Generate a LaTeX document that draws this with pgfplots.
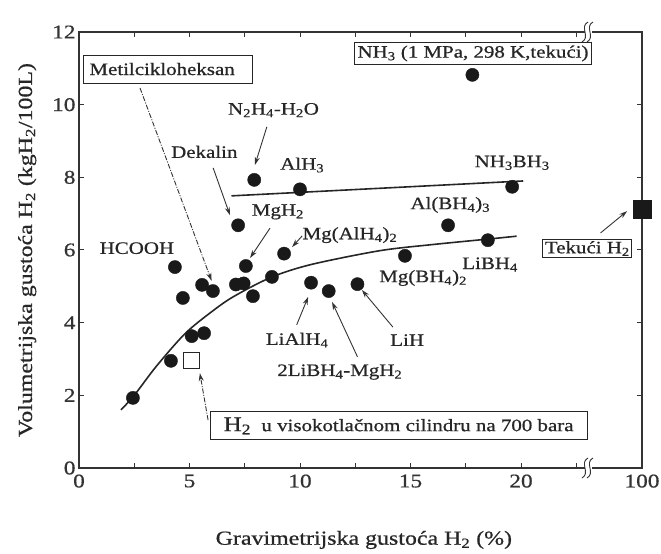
\documentclass[border=0pt]{standalone}
\usepackage{fontspec}
\setmainfont{Liberation Serif}[FakeStretch=1.2, RawFeature={embolden=0.7}]
\usepackage{pgfplots}
\pgfplotsset{compat=1.18}
\usetikzlibrary{arrows.meta}

\tikzset{
  lbl/.style={font=\fontsize{17.5}{20}\selectfont, text=black!85, inner sep=2bp},
  box/.style={lbl, draw=black!85, line width=1bp, fill=white, inner sep=3bp},
  arr/.style={-{Stealth[length=8bp,width=5bp]}, line width=0.9bp, black!80},
  dasharr/.style={arr, dash pattern=on 5bp off 1.5bp on 1bp off 1.5bp},
}

\begin{document}
\begin{tikzpicture}
\path[use as bounding box] (-79bp,-86bp) rectangle (582bp,468bp);
\begin{axis}[
  scale only axis, width=563bp, height=436bp,
  xmin=0, xmax=25.475, ymin=0, ymax=12,
  clip=false,
  axis line style={line width=1.3bp, black!80},
  tick style={line width=1bp, black!80},
  tick align=inside, major tick length=5bp, minor tick length=5bp,
  xtick={0,5,10,15,20,25.475}, xticklabels={0,5,10,15,20,100},
  minor xtick={2.5,7.5,12.5,17.5,22.5},
  ytick={0,2,4,6,8,10,12}, yticklabels={0,2,4,6,8,10,12},
  ticklabel style={font=\fontsize{19.5}{22}\selectfont, text=black!80},
  xticklabel style={yshift=-3bp},
  xlabel={Gravimetrijska gustoća H\textsubscript{2} (\%)},
  ylabel={Volumetrijska gustoća H\textsubscript{2} (kgH\textsubscript{2}/100L)},
  label style={font=\fontsize{20}{24}\selectfont, text=black!85},
  xlabel style={at={(axis description cs:0.506,-0.165)}, anchor=center},
  ylabel style={at={(axis description cs:-0.092,0.5)}, anchor=center},
]
% trend curves
\addplot[line width=1.6bp, black!85, no marks] coordinates {(6.9,7.49) (20.1,7.9)};
\addplot[line width=1.6bp, black!85, smooth, no marks] coordinates {
  (1.9,1.6) (2.5,2.0) (3.5,2.8) (4.8,3.7) (6,4.3) (7,4.72) (8.7,5.25)
  (10.5,5.6) (13.6,5.98) (16,6.15) (18.5,6.3) (19.8,6.38)};

% materials
\addplot[only marks, mark=*, mark size=6.6bp, black!90] coordinates {
  (2.44,1.93) (4.16,2.95) (5.1,3.63) (5.66,3.71) (4.34,5.53) (4.7,4.68)
  (5.57,5.04) (6.06,4.87) (7.1,5.05) (7.45,5.08) (7.55,5.56) (7.87,4.73)
  (8.73,5.26) (7.2,6.68) (7.93,7.93) (10.0,7.67) (9.28,5.9) (10.5,5.1)
  (11.3,4.87) (12.6,5.06) (14.75,5.84) (16.7,6.68) (18.5,6.27) (19.6,7.74)
  (17.8,10.82)};
% compressed H2, 700 bar
\addplot[only marks, mark=square, mark size=8bp, line width=1bp, black!85, fill=white] coordinates {(5.07,2.97)};
% liquid H2 (at 100 %)
\addplot[only marks, mark=square*, mark size=9bp, black!90] coordinates {(25.475,7.13)};

% axis breaks
\fill[white] ([shift={(-3bp,-2bp)}]axis cs:23.03,0) rectangle ([shift={(4bp,2bp)}]axis cs:23.03,0);
\draw[line width=0.9bp, black!80] ([shift={(-6bp,-10bp)}]axis cs:23.03,0)
  .. controls +(9bp,5bp) and +(-9bp,-5bp) .. ([shift={(0bp,10bp)}]axis cs:23.03,0);
\draw[line width=0.9bp, black!80] ([shift={(-1bp,-10bp)}]axis cs:23.03,0)
  .. controls +(9bp,5bp) and +(-9bp,-5bp) .. ([shift={(5bp,10bp)}]axis cs:23.03,0);
\fill[white] ([shift={(-3bp,-2bp)}]axis cs:23.03,12) rectangle ([shift={(4bp,2bp)}]axis cs:23.03,12);
\draw[line width=0.9bp, black!80] ([shift={(-6bp,-10bp)}]axis cs:23.03,12)
  .. controls +(9bp,5bp) and +(-9bp,-5bp) .. ([shift={(0bp,10bp)}]axis cs:23.03,12);
\draw[line width=0.9bp, black!80] ([shift={(-1bp,-10bp)}]axis cs:23.03,12)
  .. controls +(9bp,5bp) and +(-9bp,-5bp) .. ([shift={(5bp,10bp)}]axis cs:23.03,12);

% labels and arrows
\node[box, anchor=west, text width=157bp, align=left, inner xsep=6bp, minimum height=28bp]
  at (axis cs:0.18,10.98) {Metilcikloheksan};
\draw[dasharr] (axis cs:2.76,10.46) -- (axis cs:6.0,5.15);
\node[lbl] at (axis cs:8.8,9.85) {N\textsubscript{2}H\textsubscript{4}-H\textsubscript{2}O};
\draw[arr] (axis cs:8.5,9.39) -- (axis cs:7.96,8.34);
\node[lbl] at (axis cs:5.67,8.7) {Dekalin};
\draw[arr] (axis cs:6.07,8.26) -- (axis cs:6.83,6.96);
\node[lbl] at (axis cs:10.1,8.34) {AlH\textsubscript{3}};
\node[lbl] at (axis cs:9.0,7.05) {MgH\textsubscript{2}};
\draw[arr] (axis cs:8.64,6.6) -- (axis cs:7.74,5.78);
\node[lbl] at (axis cs:12.26,6.41) {Mg(AlH\textsubscript{4})\textsubscript{2}};
\draw[arr] (axis cs:10.1,6.39) -- (axis cs:9.64,6.08);
\node[lbl] at (axis cs:2.62,6.05) {HCOOH};
\node[box] at (axis cs:17.83,11.41) {NH\textsubscript{3} (1 MPa, 298 K,tekući)};
\node[lbl] at (axis cs:19.6,8.4) {NH\textsubscript{3}BH\textsubscript{3}};
\node[lbl] at (axis cs:16.8,7.24) {Al(BH\textsubscript{4})\textsubscript{3}};
\node[lbl] at (axis cs:18.6,5.6) {LiBH\textsubscript{4}};
\node[lbl] at (axis cs:15.57,5.23) {Mg(BH\textsubscript{4})\textsubscript{2}};
\node[lbl] at (axis cs:9.87,3.52) {LiAlH\textsubscript{4}};
\draw[arr] (axis cs:9.85,3.94) -- (axis cs:10.37,4.71);
\node[lbl] at (axis cs:11.8,2.64) {2LiBH\textsubscript{4}-MgH\textsubscript{2}};
\draw[arr] (axis cs:12.6,3.06) -- (axis cs:11.45,4.57);
\node[lbl] at (axis cs:14.85,3.52) {LiH};
\draw[arr] (axis cs:14.2,3.88) -- (axis cs:12.8,4.9);
\node[box, inner sep=2bp] at (axis cs:23.0,6.04) {Tekući H\textsubscript{2}};
\draw[arr] (axis cs:23.6,6.47) -- (axis cs:24.8,7.07);
\node[box, minimum width=377bp, minimum height=28bp] at (axis cs:14.46,1.16)
  {{\fontsize{21}{22}\selectfont H\textsubscript{2}}\ \ u visokotlačnom cilindru na 700 bara};
\draw[dasharr] (axis cs:5.84,1.32) -- (axis cs:5.47,2.61);
\end{axis}
\end{tikzpicture}
\end{document}
